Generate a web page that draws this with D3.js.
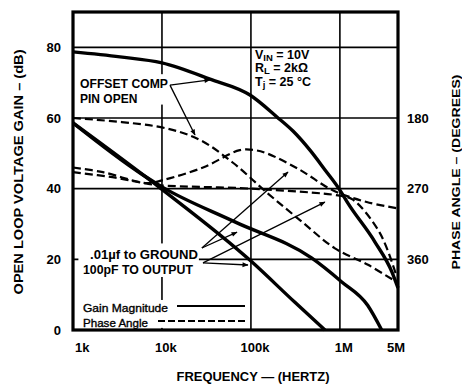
<!DOCTYPE html>
<html>
<head>
<meta charset="utf-8">
<script src="https://cdn.jsdelivr.net/npm/d3@7"></script>
<style>
  body { margin: 0; background: #fff; }
  svg { display: block; font-family: "Liberation Sans", Arial, sans-serif; }
</style>
</head>
<body>
<div id="chart"></div>
<script>
// frequency (Hz) and open loop gain (dB)
const gainOpenFreq = [1e3, 3.38e3, 1e4, 3.47e4, 9.76e4, 1.96e5, 2.97e5, 4.61e5, 6.81e5, 1e6, 1.23e6, 2.48e6, 3.85e6, 4.5e6];
const gainOpenDb   = [78.7, 77.3, 75.6, 71.0, 66.5, 60.3, 56.3, 50.9, 45.3, 39.6, 35.9, 24.9, 16.4, 11.9];

const gainGndFreq = [1e3, 6e3, 1e4, 6.6e4, 4.8e5, 1.05e6, 2.05e6, 2.95e6];
const gainGndDb   = [58.6, 44, 40.5, 30.6, 20.4, 13.6, 7, 0];

const gainOutFreq = [1e3, 1e4, 1e5, 3.1e5, 6.8e5];
const gainOutDb   = [58.6, 39.8, 19.5, 7.9, 0];

// phase angle (degrees)
const phaseOpenFreq = [1e3, 1e4, 2.67e4, 6.28e4, 1.51e5, 3.55e5, 8.8e5, 2.07e6, 4.49e6];
const phaseOpenDeg  = [180, 192, 208, 237, 275, 310, 346, 367, 390];

const phaseGndFreq = [1e3, 2.17e3, 6.8e3, 1.03e4, 2.9e4, 7.5e4, 1.11e5, 1.51e5, 3.55e5, 8.3e5, 2e6, 4.45e6];
const phaseGndDeg  = [243, 249, 263, 259, 243, 221, 221, 225, 246, 272, 287, 295];

const phaseOutFreq = [1e3, 3e3, 7e3, 1e4, 1e5, 1e6, 1.4e6, 2.8e6, 4.35e6];
const phaseOutDeg  = [249, 256, 264, 266, 270, 279, 284, 326, 382];

// axes
const freqTicks  = [1e3, 1e4, 1e5, 1e6, 4.5e6];
const freqLabels = ['1k', '10k', '100k', '1M', '5M'];
const gainTicks  = [0, 20, 40, 60, 80];
const phaseTicks = [180, 270, 360];

const W = 462, H = 384;
const svg = d3.select('#chart').append('svg')
    .attr('width', W).attr('height', H)
    .attr('viewBox', [0, 0, W, H]);

const x = d3.scaleLog().domain([1e3, 4.5e6]).range([73, 398]);
const y = d3.scaleLinear().domain([0, 90]).range([330, 12]);
const yPh = d3.scaleLinear().domain([450, 45]).range([330, 12]);

const [x0, x1] = x.range();
const [yb, yt] = y.range();

// grid
const grid = svg.append('g').attr('stroke', '#000').attr('stroke-width', 1.6);
grid.selectAll('.v').data(freqTicks.slice(1, -1)).enter().append('line')
    .attr('x1', d => x(d)).attr('x2', d => x(d))
    .attr('y1', yt).attr('y2', yb);
grid.selectAll('.h').data(gainTicks.slice(1)).enter().append('line')
    .attr('x1', x0).attr('x2', x1)
    .attr('y1', d => y(d)).attr('y2', d => y(d));

// white boxes behind the notes (they hide the grid)
const boxes = [
    [1.15e3, 72.4, 1.3e4, 63.8],  // offset comp
    [1.15e3, 24.5, 2.6e4, 15],    // .01uf / 100pF
    [1.15e3, 8.5, 2.0e4, 0.6]     // legend
];
svg.append('g').selectAll('rect').data(boxes).enter().append('rect')
    .attr('x', d => x(d[0])).attr('y', d => y(d[1]))
    .attr('width', d => x(d[2]) - x(d[0]))
    .attr('height', d => y(d[3]) - y(d[1]))
    .attr('fill', '#fff');

// curves
const curves = svg.append('g').attr('fill', 'none').attr('stroke', '#000');
const gainLine = d3.line().x(d => x(d[0])).y(d => y(d[1])).curve(d3.curveMonotoneX);
const phaseLine = d3.line().x(d => x(d[0])).y(d => yPh(d[1])).curve(d3.curveCatmullRom.alpha(0.5));

[[gainOpenFreq, gainOpenDb], [gainGndFreq, gainGndDb], [gainOutFreq, gainOutDb]].forEach(([f, v]) => {
    curves.append('path')
        .attr('d', gainLine(f.map((d, i) => [d, v[i]])))
        .attr('stroke-width', 3.4)
        .attr('stroke-linejoin', 'round');
});
[[phaseOpenFreq, phaseOpenDeg], [phaseGndFreq, phaseGndDeg], [phaseOutFreq, phaseOutDeg]].forEach(([f, v]) => {
    curves.append('path')
        .attr('d', phaseLine(f.map((d, i) => [d, v[i]])))
        .attr('stroke-width', 2.2)
        .attr('stroke-dasharray', '8,4');
});

// frame
svg.append('rect')
    .attr('x', x0).attr('y', yt)
    .attr('width', x1 - x0).attr('height', yb - yt)
    .attr('fill', 'none').attr('stroke', '#000').attr('stroke-width', 3.2);

// tick labels
const tickFont = g => g.attr('font-size', 13).attr('font-weight', 'bold').attr('fill', '#000');
svg.append('g').call(tickFont).selectAll('text').data(gainTicks).enter().append('text')
    .attr('x', 61).attr('y', d => y(d)).attr('dy', '0.35em')
    .attr('text-anchor', 'end').text(d => d);
svg.append('g').call(tickFont).selectAll('text').data(phaseTicks).enter().append('text')
    .attr('x', 407).attr('y', d => yPh(d)).attr('dy', '0.35em')
    .text(d => d);
svg.append('g').call(tickFont).selectAll('text').data(freqTicks).enter().append('text')
    .attr('x', (d, i) => x(d) + (i === 0 ? 2 : i === freqTicks.length - 1 ? 7 : 4))
    .attr('y', 352)
    .attr('text-anchor', (d, i) => i === 0 ? 'start' : i === freqTicks.length - 1 ? 'end' : 'middle')
    .text((d, i) => freqLabels[i]);

// axis titles
svg.append('text').call(tickFont).attr('font-size', 12)
    .attr('x', 253).attr('y', 381).attr('text-anchor', 'middle')
    .attr('textLength', 153).attr('lengthAdjust', 'spacingAndGlyphs')
    .text('FREQUENCY — (HERTZ)');
svg.append('text').call(tickFont).attr('font-size', 12)
    .attr('transform', 'translate(23,172) rotate(-90)').attr('text-anchor', 'middle')
    .attr('textLength', 245).attr('lengthAdjust', 'spacingAndGlyphs')
    .text('OPEN LOOP VOLTAGE GAIN – (dB)');
svg.append('text').call(tickFont).attr('font-size', 11.5)
    .attr('transform', 'translate(459.5,172) rotate(-90)').attr('text-anchor', 'middle')
    .attr('textLength', 195).attr('lengthAdjust', 'spacingAndGlyphs')
    .text('PHASE ANGLE – (DEGREES)');

// conditions
const cond = svg.append('g').call(tickFont).attr('font-size', 12.5);
const c1 = cond.append('text').attr('x', 255).attr('y', 59);
c1.append('tspan').text('V');
c1.append('tspan').attr('dy', 2).attr('font-size', 9.5).text('IN');
c1.append('tspan').attr('dy', -2).text(' = 10V');
const c2 = cond.append('text').attr('x', 255).attr('y', 72);
c2.append('tspan').text('R');
c2.append('tspan').attr('dy', 2).attr('font-size', 9.5).text('L');
c2.append('tspan').attr('dy', -2).text(' = 2kΩ');
const c3 = cond.append('text').attr('x', 255).attr('y', 86);
c3.append('tspan').text('T');
c3.append('tspan').attr('dy', 2).attr('font-size', 9.5).text('j');
c3.append('tspan').attr('dy', -2).text(' = 25 °C');

// notes
const notes = svg.append('g').call(tickFont).attr('font-size', 12);
notes.append('text').attr('x', 80).attr('y', 88).attr('textLength', 88).attr('lengthAdjust', 'spacingAndGlyphs').text('OFFSET COMP');
notes.append('text').attr('x', 80).attr('y', 103).text('PIN OPEN');
notes.append('text').attr('x', 90).attr('y', 259).attr('textLength', 108).attr('lengthAdjust', 'spacingAndGlyphs').text('.01µf  to GROUND');
notes.append('text').attr('x', 83).attr('y', 274).attr('textLength', 110).attr('lengthAdjust', 'spacingAndGlyphs').text('100pF TO OUTPUT');

// arrows, in data units: [fromFreq, fromDb, toFreq, toDb]
const arrows = [
    [1.23e4, 69.3, 3.46e4, 70.8],
    [1.23e4, 69.3, 2.35e4, 55.2],
    [2.81e4, 23.2, 6.97e4, 27.7],
    [2.81e4, 23.2, 2.61e5, 44.7],
    [2.89e4, 19.0, 9.25e4, 18.4],
    [2.89e4, 19.0, 6.78e5, 36.2]
];
svg.append('defs').html('<marker id="ah" viewBox="0 0 10 10" refX="9" refY="5" markerWidth="8" markerHeight="6" orient="auto" markerUnits="userSpaceOnUse"><path d="M0,1 L10,5 L0,9 z" fill="#000"/></marker>');
svg.append('g').selectAll('line').data(arrows).enter().append('line')
    .attr('x1', d => x(d[0])).attr('y1', d => y(d[1]))
    .attr('x2', d => x(d[2])).attr('y2', d => y(d[3]))
    .attr('stroke', '#000').attr('stroke-width', 1.3)
    .attr('marker-end', 'url(#ah)');

// legend
const legend = svg.append('g').attr('font-size', 11.5).attr('fill', '#000')
    .attr('stroke', '#000').attr('stroke-width', 0.35);
legend.append('text').attr('x', 83).attr('y', 312).attr('textLength', 85).attr('lengthAdjust', 'spacingAndGlyphs').text('Gain Magnitude');
legend.append('text').attr('x', 83).attr('y', 327).attr('textLength', 65).attr('lengthAdjust', 'spacingAndGlyphs').text('Phase Angle');
legend.append('line').attr('x1', 177).attr('x2', 245).attr('y1', 306).attr('y2', 306)
    .attr('stroke-width', 2.2);
legend.append('line').attr('x1', 158).attr('x2', 245).attr('y1', 321).attr('y2', 321)
    .attr('stroke-width', 1.8).attr('stroke-dasharray', '7,3');
</script>
</body>
</html>
